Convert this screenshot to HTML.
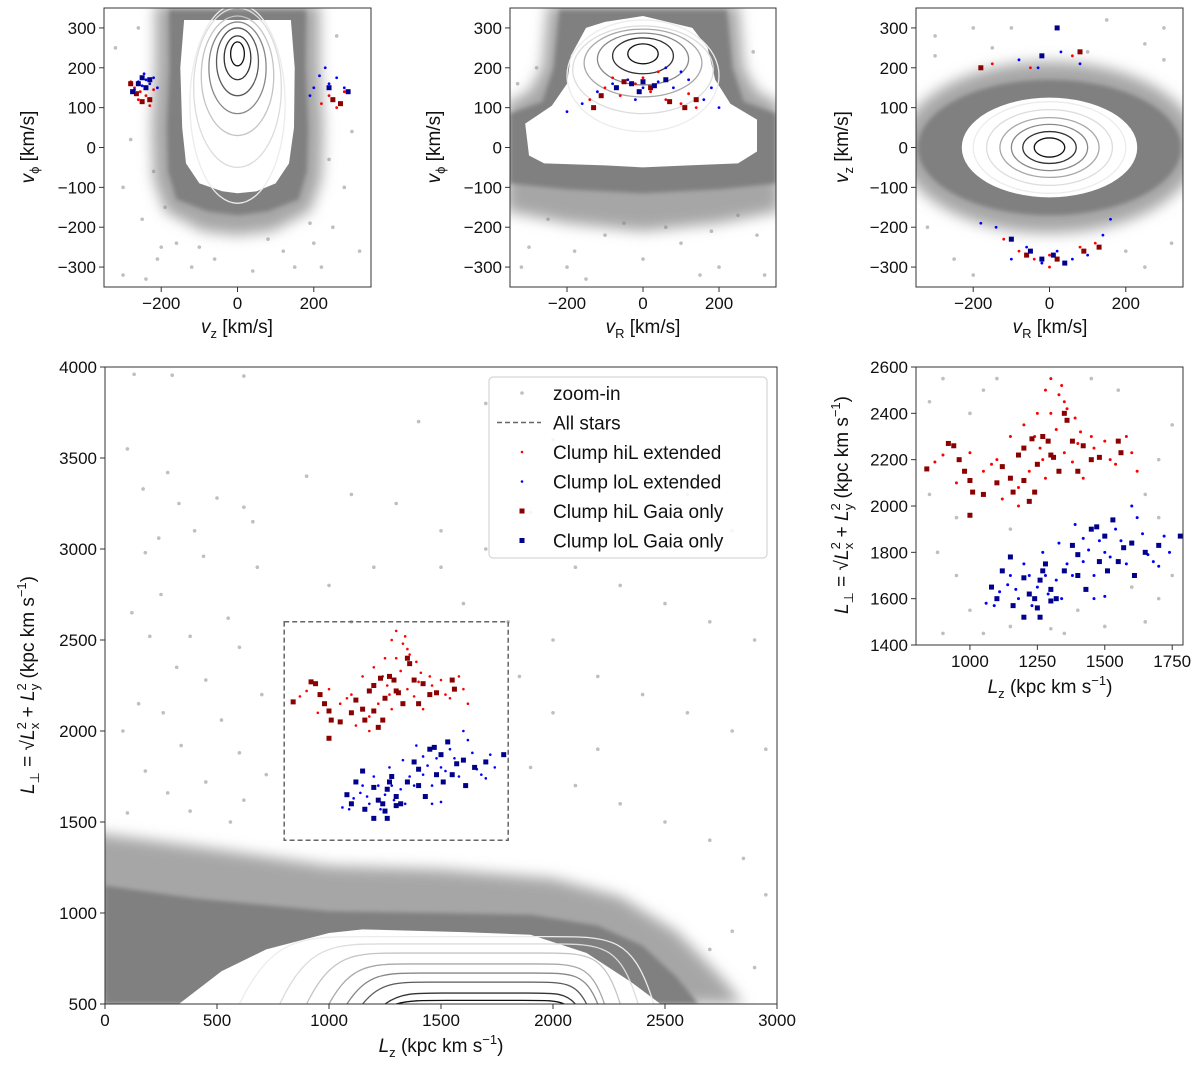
<!DOCTYPE html>
<html><head><meta charset="utf-8"><style>
body{margin:0;background:#fff}
svg{display:block;font-family:"Liberation Sans","DejaVu Sans",sans-serif}
</style></head><body>
<svg id="c" width="1200" height="1067" xmlns="http://www.w3.org/2000/svg">
<defs><filter id="blur" x="-20%" y="-20%" width="140%" height="140%"><feGaussianBlur stdDeviation="7"/></filter>
<filter id="blur2" x="-20%" y="-20%" width="140%" height="140%"><feGaussianBlur stdDeviation="2"/></filter></defs>
</svg>
<script>
// ---------- DATA ----------
// Panel A (vz, vphi)
const aHalo=[[-215,360],[-215,200],[-225,50],[-220,-80],[-190,-160],[-90,-210],[0,-220],[90,-210],[190,-160],[220,-80],[225,50],[215,200],[215,360]];
const aOuter=[[-180,345],[-178,200],[-185,50],[-182,-60],[-160,-130],[-80,-160],[0,-170],[80,-160],[160,-130],[182,-60],[185,50],[178,200],[180,345]];
const aInner=[[-140,320],[-150,200],[-145,50],[-135,-40],[-100,-90],[-40,-110],[0,-115],[50,-110],[100,-90],[135,-40],[148,50],[150,200],[140,320]];
const aContours=[[0,110,125,250],[0,150,115,200],[0,180,95,150],[0,200,75,115],[0,215,55,85],[0,225,35,55],[0,235,18,30]];
const aGray=[[-300,-320],[-250,-180],[-220,-60],[-280,20],[-320,250],[-260,300],[-200,-250],[250,-200],[280,-100],[300,40],[220,-300],[260,280],[-240,-330],[150,-300],[-120,-300],[200,-240],[-190,-150],[240,-30],[-300,-100],[320,-260],[-210,-280],[190,-190],[-160,-240],[120,-260],[-100,-250],[80,-230],[-60,-280],[40,-310]];
const aRedA=[[-270,150],[-255,140],[-240,130],[-280,165],[-230,105],[-260,120],[-220,145],[220,110],[240,130],[260,100],[280,140]];
const aBlueA=[[-260,165],[-240,170],[-250,155],[-230,160],[-270,145],[-220,175],[-245,185],[-210,150],[200,150],[215,180],[240,160],[260,175],[280,150],[190,130],[230,200]];
const aRedSqA=[[-280,160],[-250,115],[-230,120],[-265,135],[270,110],[250,120]];
const aBlueSqA=[[-260,160],[-240,150],[-250,175],[-275,140],[-230,170],[290,140],[240,150]];
// Panel B (vR, vphi)
const bHalo=[[-250,360],[-265,200],[-300,140],[-360,110],[-360,-160],[-200,-190],[0,-210],[200,-190],[360,-160],[360,110],[300,140],[265,200],[250,360]];
const bOuter=[[-220,345],[-235,200],[-265,115],[-350,85],[-350,-90],[-200,-105],[0,-115],[200,-105],[350,-90],[350,85],[265,115],[235,200],[220,345]];
const bInner=[[-150,300],[-190,230],[-200,160],[-240,105],[-310,60],[-300,-20],[-260,-40],[-100,-45],[0,-50],[120,-45],[250,-40],[300,-10],[300,70],[230,110],[190,170],[170,250],[130,300],[0,330],[-100,315]];
const bContours=[[0,180,200,140],[0,195,185,110],[0,212,155,85],[0,222,120,65],[0,230,80,45],[0,235,40,25]];
const bGray=[[-300,-250],[-200,-300],[-100,-220],[0,-280],[100,-240],[200,-300],[300,-220],[-250,-180],[250,-170],[-150,-330],[150,-320],[-320,-300],[320,-320],[-50,-190],[60,-200],[-280,200],[290,240],[-330,160],[-180,-260],[180,-210]];
const bRed=[[-100,150],[-60,130],[-20,160],[20,140],[60,120],[100,110],[140,100],[-140,120],[0,175],[40,190],[-80,175],[120,135]];
const bBlue=[[-120,140],[-80,160],[-40,170],[0,150],[40,165],[80,150],[120,170],[160,120],[200,100],[-160,110],[-200,90],[60,200],[-20,120],[100,190],[180,150]];
const bRedSq=[[-110,130],[-50,165],[20,150],[70,115],[110,100],[140,120],[-130,100]];
const bBlueSq=[[-70,150],[-30,160],[0,165],[30,155],[60,170],[-10,140]];
// Panel C (vR, vz)
const cHaloR=[390,215], cOuterR=[345,170], cInnerR=[230,125];
const cContours=[[0,0,200,115],[0,0,165,95],[0,0,130,75],[0,0,100,58],[0,0,70,40],[0,0,40,24]];
const cGray=[[-300,280],[-200,300],[250,260],[300,300],[-250,-280],[250,-300],[-320,-200],[320,-240],[-100,300],[150,320],[-300,230],[300,220],[-200,-320],[200,-260],[-150,250],[100,240]];
const cRed=[[-80,-260],[-40,-280],[0,-270],[40,-290],[80,-250],[120,-240],[-120,-230],[-150,210],[-50,200],[60,230],[0,-300]];
const cBlue=[[-100,-280],[-60,-250],[-20,-290],[20,-260],[60,-280],[100,-270],[140,-220],[-140,-200],[-30,200],[30,240],[80,210],[-80,220],[160,-180],[-180,-190]];
const cRedSq=[[-60,-270],[20,-280],[90,-260],[130,-250],[-180,200],[80,240]];
const cBlueSq=[[-50,-260],[-20,-280],[10,-270],[40,-290],[-100,-230],[20,300],[-20,230]];
// Panel D/E (Lz, Lperp)
const dHalo=[[-100,500],[-100,1450],[500,1350],[1000,1260],[1500,1240],[2000,1190],[2300,1090],[2550,900],[2750,650],[2850,500]];
const dOuter=[[0,500],[0,1150],[400,1080],[1000,1010],[1500,1000],[1900,990],[2200,930],[2400,820],[2550,650],[2650,500]];
const dInner=[[330,500],[520,680],[720,800],[1000,890],[1150,910],[1600,895],[1900,880],[2150,780],[2350,620],[2480,500]];
const contourLeft=[600,780,900,1000,1080,1150,1250,1300];
const contourRight=[2450,2380,2300,2230,2200,2150,2100,2050];
const contourTop=[870,830,780,720,670,620,560,520];
const dGray=[[130,3960],[300,3955],[620,3950],[100,3550],[280,3420],[170,3330],[330,3250],[500,3280],[620,3230],[660,3150],[400,3100],[240,3060],[180,2980],[440,2960],[680,2900],[250,2750],[120,2650],[550,2620],[380,2520],[200,2520],[600,2460],[320,2350],[450,2280],[150,2150],[260,2100],[520,2060],[700,2200],[80,2000],[340,1920],[600,1880],[720,1760],[180,1780],[450,1720],[280,1660],[620,1620],[100,1550],[380,1560],[560,1500],[900,3400],[1100,3300],[1300,3250],[1500,3100],[1700,3000],[1900,3200],[2100,2900],[2300,2800],[2500,2700],[2700,2600],[2900,2500],[1000,2800],[1200,2900],[1600,2700],[1800,2600],[2000,2500],[2200,2300],[2400,2200],[2600,2100],[2800,2000],[2950,1900],[1900,1800],[2100,1700],[2300,1600],[2500,1500],[2700,1400],[2850,1300],[2950,1100],[2800,900],[2900,700],[2700,800],[1400,3700],[1700,3800],[2000,3600],[2400,3500],[2600,3300],[2800,3100],[1500,2900],[1100,2600],[2000,2100],[2200,1900],[1850,2300]];
const redSq=[[840,2160],[920,2270],[940,2260],[960,2200],[980,2150],[1000,2110],[1010,2060],[1000,1960],[1050,2050],[1100,2100],[1120,2170],[1150,2120],[1160,2060],[1180,2220],[1200,2250],[1200,2110],[1230,2290],[1250,2180],[1270,2300],[1290,2280],[1300,2220],[1310,2210],[1350,2400],[1360,2370],[1380,2280],[1400,2150],[1420,2260],[1450,2200],[1480,2210],[1550,2280],[1560,2230],[1240,2060],[1220,2020],[1330,2150]];
const redDot=[[1300,2550],[1280,2500],[1330,2480],[1350,2450],[1360,2420],[1390,2380],[1410,2320],[1450,2300],[1500,2280],[1520,2200],[1600,2230],[1620,2150],[1250,2400],[1200,2350],[1150,2300],[1100,2200],[1080,2180],[950,2100],[900,2220],[870,2190],[1050,2150],[1180,2080],[1220,2150],[1260,2250],[1320,2330],[1350,2230],[1380,2190],[1420,2120],[1460,2250],[1280,2120],[1240,2300],[1300,2400],[1340,2520],[1400,2270],[1120,2030],[1180,2000],[1540,2180],[1580,2300],[1000,2230],[1270,2200]];
const blueSq=[[1080,1650],[1100,1600],[1120,1720],[1150,1780],[1160,1570],[1200,1690],[1220,1620],[1240,1600],[1250,1560],[1260,1680],[1270,1720],[1280,1750],[1300,1640],[1300,1590],[1320,1600],[1350,1720],[1380,1830],[1400,1790],[1400,1700],[1430,1640],[1450,1900],[1470,1910],[1480,1760],[1500,1870],[1510,1720],[1530,1940],[1550,1760],[1570,1820],[1600,1840],[1610,1700],[1650,1800],[1700,1830],[1780,1870],[1200,1520],[1260,1520]];
const blueDot=[[1060,1580],[1090,1570],[1110,1630],[1140,1660],[1170,1640],[1200,1750],[1220,1700],[1250,1650],[1280,1700],[1290,1620],[1320,1680],[1340,1600],[1360,1750],[1380,1700],[1420,1760],[1440,1810],[1460,1700],[1480,1850],[1500,1800],[1520,1780],[1540,1900],[1560,1850],[1600,2000],[1620,1950],[1640,1880],[1660,1790],[1680,1760],[1700,1740],[1720,1870],[1740,1800],[1460,1600],[1500,1610],[1180,1600],[1230,1570],[1330,1840],[1390,1920],[1420,1860],[1580,1750],[1150,1700],[1270,1800]];
const eGray=[[850,2450],[900,2550],[1000,2400],[1050,2500],[880,1800],[950,1700],[1000,1550],[900,1450],[1050,1450],[1150,1480],[1350,1450],[1500,1480],[1650,1500],[1700,1600],[1750,1700],[1650,2050],[1700,2200],[1750,2350],[1550,2500],[1450,2550],[1100,2550],[1150,1900],[1600,1650],[1400,1550],[1300,1470],[950,1950],[850,2050],[1700,1950]];
const ticksTopX=[-200,0,200], ticksTopY=[-300,-200,-100,0,100,200,300];
const ticksDX=[0,500,1000,1500,2000,2500,3000], ticksDY=[500,1000,1500,2000,2500,3000,3500,4000];
const ticksEX=[1000,1250,1500,1750], ticksEY=[1400,1600,1800,2000,2200,2400,2600];

// ---------- RENDER ----------
const NS='http://www.w3.org/2000/svg', svg=document.getElementById('c');
function el(tag,attrs,parent){const e=document.createElementNS(NS,tag);for(const k in attrs)e.setAttribute(k,attrs[k]);(parent||svg).appendChild(e);return e;}
let clipN=0;
function panel(name,x0,y0,x1,y1,xd,yd){
  const g=el('g',{});
  
  
  const id='clip'+(clipN++);
  const cp=el('clipPath',{id:id},g);el('rect',{x:x0,y:y0,width:x1-x0,height:y1-y0},cp);
  const inner=el('g',{'clip-path':'url(#'+id+')'},g);
  const sx=v=>x0+(v-xd[0])/(xd[1]-xd[0])*(x1-x0);
  const sy=v=>y1-(v-yd[0])/(yd[1]-yd[0])*(y1-y0);
  return {g,inner,sx,sy,x0,y0,x1,y1};
}
function poly(P,pts,fill,name,extra){const d=pts.map((p,i)=>(i?'L':'M')+P.sx(p[0]).toFixed(1)+','+P.sy(p[1]).toFixed(1)).join('')+'Z';
  const a={d:d,fill:fill};if(extra)for(const k in extra)a[k]=extra[k];
  const e=el('path',a,P.inner);return e;}
const cgrays=['#ececec','#dcdcdc','#c4c4c4','#a8a8a8','#888','#5a5a5a','#333','#111'];
function ellipses(P,arr,name){arr.forEach((c,i)=>{const cx=P.sx(c[0]),cy=P.sy(c[1]);
  const rx=Math.abs(P.sx(c[0]+c[2])-cx),ry=Math.abs(P.sy(c[1]+c[3])-cy);
  const col=cgrays[Math.round(i*(cgrays.length-1)/Math.max(1,arr.length-1))];
  const e=el('ellipse',{cx:cx,cy:cy,rx:rx,ry:ry,fill:'none',stroke:col,'stroke-width':1.3},P.inner);
  });}
function dots(P,arr,r,fill,name,op){arr.forEach(p=>{const e=el('circle',{cx:P.sx(p[0]),cy:P.sy(p[1]),r:r,fill:fill,'fill-opacity':op||1},P.inner);
  });}
function squares(P,arr,s,fill,name){arr.forEach(p=>{const e=el('rect',{x:P.sx(p[0])-s/2,y:P.sy(p[1])-s/2,width:s,height:s,fill:fill},P.inner);
  });}
function axes(P,xt,yt){
  const f=el('rect',{x:P.x0,y:P.y0,width:P.x1-P.x0,height:P.y1-P.y0,fill:'none',stroke:'#333','stroke-width':1},P.g);
  
  xt.forEach(v=>{const x=P.sx(v);el('line',{x1:x,x2:x,y1:P.y1,y2:P.y1+5,stroke:'#333'},P.g);
    const t=el('text',{x:x,y:P.y1+22,'font-size':17,'text-anchor':'middle',fill:'#111'},P.g);t.textContent=String(v).replace('-','\u2212');
    });
  yt.forEach(v=>{const y=P.sy(v);el('line',{x1:P.x0-5,x2:P.x0,y1:y,y2:y,stroke:'#333'},P.g);
    const t=el('text',{x:P.x0-8,y:y+6,'font-size':17,'text-anchor':'end',fill:'#111'},P.g);t.textContent=String(v).replace('-','\u2212');
    });
}
function label(html,x,y,rot,name){const t=el('text',{x:x,y:y,'font-size':19,'text-anchor':'middle',fill:'#111',transform:rot?'rotate(-90 '+x+' '+y+')':''});
  t.innerHTML=html;}
const lperp='<tspan font-style="italic">L</tspan><tspan font-size="13" dy="5">⊥</tspan><tspan dy="-5"> = √</tspan><tspan font-style="italic">L</tspan><tspan font-size="13" dy="-8">2</tspan><tspan font-size="13" dx="-7" dy="13">x</tspan><tspan dy="-5"> + </tspan><tspan font-style="italic">L</tspan><tspan font-size="13" dy="-8">2</tspan><tspan font-size="13" dx="-7" dy="13">y</tspan><tspan dy="-5">  (kpc km s</tspan><tspan font-size="13" dy="-8">−1</tspan><tspan dy="8">)</tspan>';
const lzlab='<tspan font-style="italic">L</tspan><tspan font-size="13" dy="5">z</tspan><tspan dy="-5"> (kpc km s</tspan><tspan font-size="13" dy="-8">−1</tspan><tspan dy="8">)</tspan>';
const halo={filter:'url(#blur)','fill-opacity':0.7};
const soft={filter:'url(#blur2)'};

const RED='#ff0000',DRED='#8b0000',BLUE='#0000ff',DBLUE='#00008b',GR='#808080';
// Panel A
const A=panel('panel-vz-vphi',104,8,371,287,[-350,350],[-350,350]);
dots(A,aGray,1.8,GR,'star-point',0.5);
poly(A,aHalo,GR,'sparse-halo',halo);
poly(A,aOuter,GR,'dense-region',soft);poly(A,aInner,'#fff','contour-region');
ellipses(A,aContours,'density-contour');
dots(A,aRedA,1.4,RED,'hil-extended-point');dots(A,aBlueA,1.4,BLUE,'lol-extended-point');
squares(A,aRedSqA,5,DRED,'hil-gaia-point');squares(A,aBlueSqA,5,DBLUE,'lol-gaia-point');
axes(A,ticksTopX,ticksTopY);
label('<tspan font-style="italic">v</tspan><tspan font-size="13" dy="5">z</tspan><tspan dy="-5"> [km/s]</tspan>',237,333,false,'x-axis-title');
label('<tspan font-style="italic">v</tspan><tspan font-size="13" dy="5">ϕ</tspan><tspan dy="-5"> [km/s]</tspan>',34,147,true,'y-axis-title');
// Panel B
const B=panel('panel-vr-vphi',510,8,776,287,[-350,350],[-350,350]);
dots(B,bGray,1.8,GR,'star-point',0.5);
poly(B,bHalo,GR,'sparse-halo',halo);
poly(B,bOuter,GR,'dense-region',soft);poly(B,bInner,'#fff','contour-region');
ellipses(B,bContours,'density-contour');
dots(B,bRed,1.4,RED,'hil-extended-point');dots(B,bBlue,1.4,BLUE,'lol-extended-point');
squares(B,bRedSq,5,DRED,'hil-gaia-point');squares(B,bBlueSq,5,DBLUE,'lol-gaia-point');
axes(B,ticksTopX,ticksTopY);
label('<tspan font-style="italic">v</tspan><tspan font-size="13" dy="5">R</tspan><tspan dy="-5"> [km/s]</tspan>',643,333,false,'x-axis-title');
label('<tspan font-style="italic">v</tspan><tspan font-size="13" dy="5">ϕ</tspan><tspan dy="-5"> [km/s]</tspan>',440,147,true,'y-axis-title');
// Panel C
const C=panel('panel-vr-vz',916,8,1183,287,[-350,350],[-350,350]);
dots(C,cGray,1.8,GR,'star-point',0.5);
function ell(P,r,fill,name,extra){const a={cx:P.sx(0),cy:P.sy(0),rx:P.sx(r[0])-P.sx(0),ry:P.sy(0)-P.sy(r[1]),fill:fill};
  if(extra)for(const k in extra)a[k]=extra[k];const e=el('ellipse',a,P.inner);
  }
ell(C,cHaloR,GR,'sparse-halo',halo);
ell(C,cOuterR,GR,'dense-region',soft);
ell(C,cInnerR,'#fff','contour-region');
ellipses(C,cContours,'density-contour');
dots(C,cRed,1.4,RED,'hil-extended-point');dots(C,cBlue,1.4,BLUE,'lol-extended-point');
squares(C,cRedSq,5,DRED,'hil-gaia-point');squares(C,cBlueSq,5,DBLUE,'lol-gaia-point');
axes(C,ticksTopX,ticksTopY);
label('<tspan font-style="italic">v</tspan><tspan font-size="13" dy="5">R</tspan><tspan dy="-5"> [km/s]</tspan>',1050,333,false,'x-axis-title');
label('<tspan font-style="italic">v</tspan><tspan font-size="13" dy="5">z</tspan><tspan dy="-5"> [km/s]</tspan>',848,147,true,'y-axis-title');
// Panel D
const D=panel('panel-lz-lperp',105,367,777,1004,[0,3000],[500,4000]);
dots(D,dGray,1.8,GR,'star-point',0.5);
poly(D,dHalo,GR,'sparse-halo',halo);
poly(D,dOuter,GR,'dense-region',soft);poly(D,dInner,'#fff','contour-region');
contourLeft.forEach((l,i)=>{const r=contourRight[i],t=contourTop[i],w=r-l;
  const d='M'+D.sx(l)+','+D.sy(500)+' C'+D.sx(l+w*0.08)+','+D.sy(t)+' '+D.sx(l+w*0.15)+','+D.sy(t)+' '+D.sx(l+w*0.3)+','+D.sy(t)+
    ' L'+D.sx(r-w*0.25)+','+D.sy(t)+' C'+D.sx(r-w*0.1)+','+D.sy(t)+' '+D.sx(r-w*0.05)+','+D.sy(t)+' '+D.sx(r)+','+D.sy(500);
  const e=el('path',{d:d,fill:'none',stroke:cgrays[i],'stroke-width':1.3},D.inner);
  });
(function(){const z=el('rect',{x:D.sx(800),y:D.sy(2600),width:D.sx(1800)-D.sx(800),height:D.sy(1400)-D.sy(2600),fill:'none',stroke:'#666','stroke-width':1.5,'stroke-dasharray':'5,3'},D.inner);
})();
dots(D,redDot,1.3,RED,'hil-extended-point');dots(D,blueDot,1.3,BLUE,'lol-extended-point');
squares(D,redSq,5,DRED,'hil-gaia-point');squares(D,blueSq,5,DBLUE,'lol-gaia-point');
axes(D,ticksDX,ticksDY);
label(lzlab,441,1052,false,'x-axis-title');
label(lperp,34,685,true,'y-axis-title');
// legend
(function(){const g=el('g',{});
el('rect',{x:489,y:377,width:278,height:181,rx:4,fill:'#fff','fill-opacity':0.85,stroke:'#ccc'},g);
const items=[['zoom-in','dot',GR],['All stars','dash','#666'],['Clump hiL extended','dot',RED],['Clump loL extended','dot',BLUE],['Clump hiL Gaia only','sq',DRED],['Clump loL Gaia only','sq',DBLUE]];
items.forEach((it,i)=>{const y=393+i*29.5;const e=el('g',{},g);
 if(it[1]==='dot')el('circle',{cx:522,cy:y,r:it[0]==='zoom-in'?1.8:1.3,fill:it[2],'fill-opacity':it[0]==='zoom-in'?0.5:1},e);
 else if(it[1]==='sq')el('rect',{x:519.5,y:y-2.5,width:5,height:5,fill:it[2]},e);
 else el('line',{x1:497,x2:541,y1:y,y2:y,stroke:it[2],'stroke-width':1.5,'stroke-dasharray':'5,3'},e);
 const t=el('text',{x:553,y:y+7,'font-size':19,fill:'#111'},e);t.textContent=it[0];});})();
// Panel E
const E=panel('panel-zoom-in',916,367,1183,645,[800,1790],[1400,2600]);
dots(E,eGray,1.8,GR,'star-point',0.5);
dots(E,redDot,1.5,RED,'hil-extended-point');dots(E,blueDot,1.5,BLUE,'lol-extended-point');
squares(E,redSq,5,DRED,'hil-gaia-point');squares(E,blueSq,5,DBLUE,'lol-gaia-point');
axes(E,ticksEX,ticksEY);
label(lzlab,1050,693,false,'x-axis-title');
label(lperp,848,505,true,'y-axis-title');
</script>
</body></html>
